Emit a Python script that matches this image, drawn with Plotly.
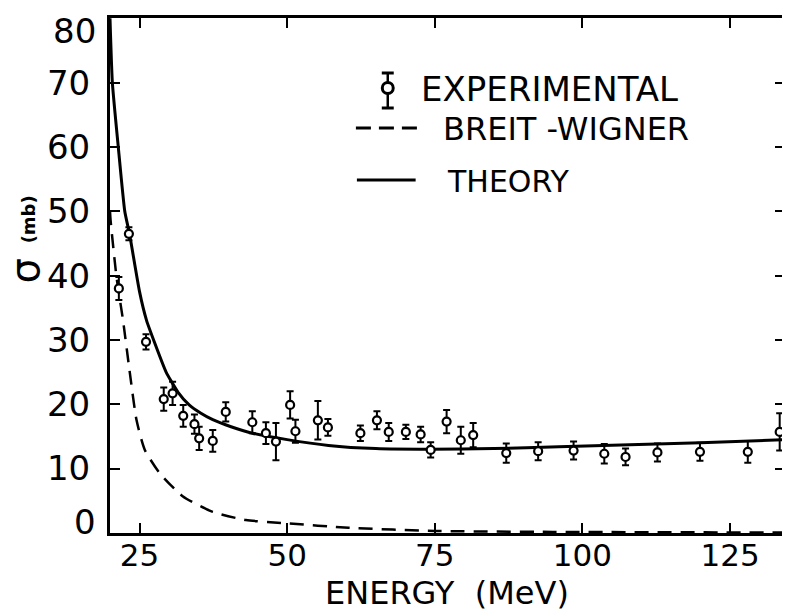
import plotly.graph_objects as go

# ---- data ----
exp_energy = [23.2, 21.5, 26.1, 29.1, 30.6, 32.4, 34.3, 35.1, 37.4, 39.6, 44.1, 46.4, 48.1,
              50.5, 51.4, 55.2, 56.9, 62.4, 65.2, 67.2, 70.1, 72.6, 74.3, 77.0, 79.4, 81.5,
              87.1, 92.5, 98.5, 103.7, 107.3, 112.7, 119.9, 128.0, 133.4]
exp_sigma = [46.5, 38.0, 29.7, 20.8, 21.7, 18.2, 16.9, 14.7, 14.3, 18.8, 17.2, 15.5, 14.2,
             19.9, 15.8, 17.5, 16.4, 15.5, 17.5, 15.7, 15.7, 15.3, 12.9, 17.3, 14.4, 15.2,
             12.4, 12.7, 12.8, 12.3, 11.8, 12.5, 12.6, 12.6, 15.7]
exp_err = [1.0, 1.8, 1.2, 1.8, 1.8, 1.7, 1.5, 1.8, 1.7, 1.5, 1.7, 1.7, 2.9,
           2.1, 1.8, 3.0, 1.3, 1.2, 1.4, 1.4, 1.1, 1.2, 1.2, 1.8, 2.1, 1.9,
           1.5, 1.4, 1.4, 1.5, 1.3, 1.4, 1.4, 1.7, 2.9]

theory_energy = [20.0, 20.4, 21.4, 22.5, 23.3, 25.0, 26.2, 27.5, 29.5, 31.5, 33.4, 35.4,
                 37.4, 40.5, 44.1, 50, 57, 65, 74, 85, 96, 108, 120, 134.3]
theory_sigma = [80, 70, 60, 50, 46.5, 37.5, 33.0, 29.7, 25.0, 21.9, 19.9, 18.6,
                17.6, 16.5, 15.5, 14.5, 13.6, 13.1, 13.0, 13.1, 13.4, 13.7, 14.0, 14.5]

bw_energy = [20.0, 20.1, 21.1, 22.2, 23.3, 24.5, 25.9, 28.4, 32.3, 37.3, 43.0, 49.7,
             60.4, 75, 95, 134.3]
bw_sigma = [50, 48.6, 39.8, 33.1, 25.3, 17.5, 12.9, 9.3, 5.7, 3.3, 2.0, 1.5,
            0.8, 0.3, 0.15, 0.05]

x_ticks = [25, 50, 75, 100, 125]
y_ticks = [0, 10, 20, 30, 40, 50, 60, 70, 80]
# the end labels (0 and 80) are lettered slightly inside the frame in the original
y_ticktext = ["", "10", "20", "30", "40", "50", "60", "70", ""]

FONT = "DejaVu Sans"
OFF = 8  # page body margin of the browser
W, H = 790 - OFF, 614 - OFF
# plot area in window pixels: x 110..788, y 18..533
L, R, T, B = 110 - OFF, 2, 18 - OFF, 81
PW, PH = W - L - R, H - T - B
AX_L, AX_B = 110, 533  # window pixel coordinates of plot-area left / bottom


def px(x):
    return (x - AX_L) / PW


def py(y):
    return (AX_B - y) / PH


fig = go.Figure()

fig.add_trace(go.Scatter(
    x=bw_energy, y=bw_sigma, mode="lines",
    line=dict(color="black", width=2.5, dash="14px,9px", shape="spline", smoothing=0.6),
    showlegend=False, hoverinfo="skip"))

fig.add_trace(go.Scatter(
    x=theory_energy, y=theory_sigma, mode="lines",
    line=dict(color="black", width=3, shape="spline", smoothing=0.5),
    showlegend=False, hoverinfo="skip"))

fig.add_trace(go.Scatter(
    x=exp_energy, y=exp_sigma, mode="markers",
    marker=dict(symbol="circle", size=8, color="white", line=dict(color="black", width=2.2)),
    error_y=dict(type="data", array=exp_err, visible=True, color="black", thickness=2, width=3.5),
    showlegend=False, cliponaxis=False))

# ---- hand-drawn style legend ----
shapes = []
shapes.append(dict(type="line", xref="paper", yref="paper", x0=px(389), x1=px(389), y0=py(73), y1=py(108),
                   line=dict(color="black", width=2.5)))
for yy in (73, 108):
    shapes.append(dict(type="line", xref="paper", yref="paper", x0=px(383), x1=px(395), y0=py(yy), y1=py(yy),
                       line=dict(color="black", width=3)))
shapes.append(dict(type="circle", xref="paper", yref="paper", x0=px(383.5), x1=px(394.5), y0=py(82.5), y1=py(93.5),
                   fillcolor="white", line=dict(color="black", width=3)))
shapes.append(dict(type="line", xref="paper", yref="paper", x0=px(357), x1=px(419), y0=py(128), y1=py(128),
                   line=dict(color="black", width=3, dash="15px,8px")))
shapes.append(dict(type="line", xref="paper", yref="paper", x0=px(358), x1=px(417), y0=py(180), y1=py(180),
                   line=dict(color="black", width=3)))

tickfont_y = dict(family=FONT, size=34, color="black")
annotations = [
    dict(text="EXPERIMENTAL", x=px(420), y=py(89), xref="paper", yref="paper",
         xanchor="left", yanchor="middle", showarrow=False, font=dict(family=FONT, size=34, color="black")),
    dict(text="BREIT -WIGNER", x=px(442), y=py(129), xref="paper", yref="paper",
         xanchor="left", yanchor="middle", showarrow=False, font=dict(family=FONT, size=32, color="black")),
    dict(text="THEORY", x=px(446), y=py(181), xref="paper", yref="paper",
         xanchor="left", yanchor="middle", showarrow=False, font=dict(family=FONT, size=30, color="black")),
    dict(text="ENERGY  (MeV)", x=px(448), y=py(593), xref="paper", yref="paper",
         xanchor="center", yanchor="middle", showarrow=False, font=dict(family=FONT, size=32, color="black")),
    dict(text="σ", x=px(25), y=py(271), xref="paper", yref="paper", textangle=-90,
         height=32, borderpad=0,
         xanchor="center", yanchor="middle", showarrow=False, font=dict(family=FONT, size=40, color="black")),
    dict(text="<b>(mb)</b>", x=px(28), y=py(219), xref="paper", yref="paper", textangle=-90,
         xanchor="center", yanchor="middle", showarrow=False, font=dict(family=FONT, size=18, color="black")),
    # end tick labels of the y axis
    dict(text="80", x=px(98), y=py(31), xref="paper", yref="paper",
         xanchor="right", yanchor="middle", showarrow=False, font=tickfont_y),
    dict(text="0", x=px(98), y=py(522), xref="paper", yref="paper",
         xanchor="right", yanchor="middle", showarrow=False, font=tickfont_y),
]

fig.update_layout(
    width=W, height=H,
    margin=dict(l=L, r=R, t=T, b=B),
    paper_bgcolor="white", plot_bgcolor="white",
    font=dict(family=FONT, color="black"),
    shapes=shapes, annotations=annotations,
    showlegend=False,
)

fig.update_xaxes(
    range=[20, 134.3], tickvals=x_ticks, ticktext=[str(v) for v in x_ticks],
    ticks="inside", ticklen=10, tickwidth=2, tickcolor="black",
    showline=True, linewidth=2.5, linecolor="black", mirror="ticks",
    showgrid=False, zeroline=False,
    tickfont=dict(family=FONT, size=31, color="black"), ticklabelstandoff=-7,
)
fig.update_yaxes(
    range=[-0.02, 80.05], tickvals=y_ticks, ticktext=y_ticktext,
    ticks="inside", ticklen=10, tickwidth=2, tickcolor="black",
    showline=True, linewidth=3, linecolor="black", mirror="ticks",
    showgrid=False, zeroline=False,
    tickfont=tickfont_y, ticklabelstandoff=10,
)

fig.write_html("out.html")
